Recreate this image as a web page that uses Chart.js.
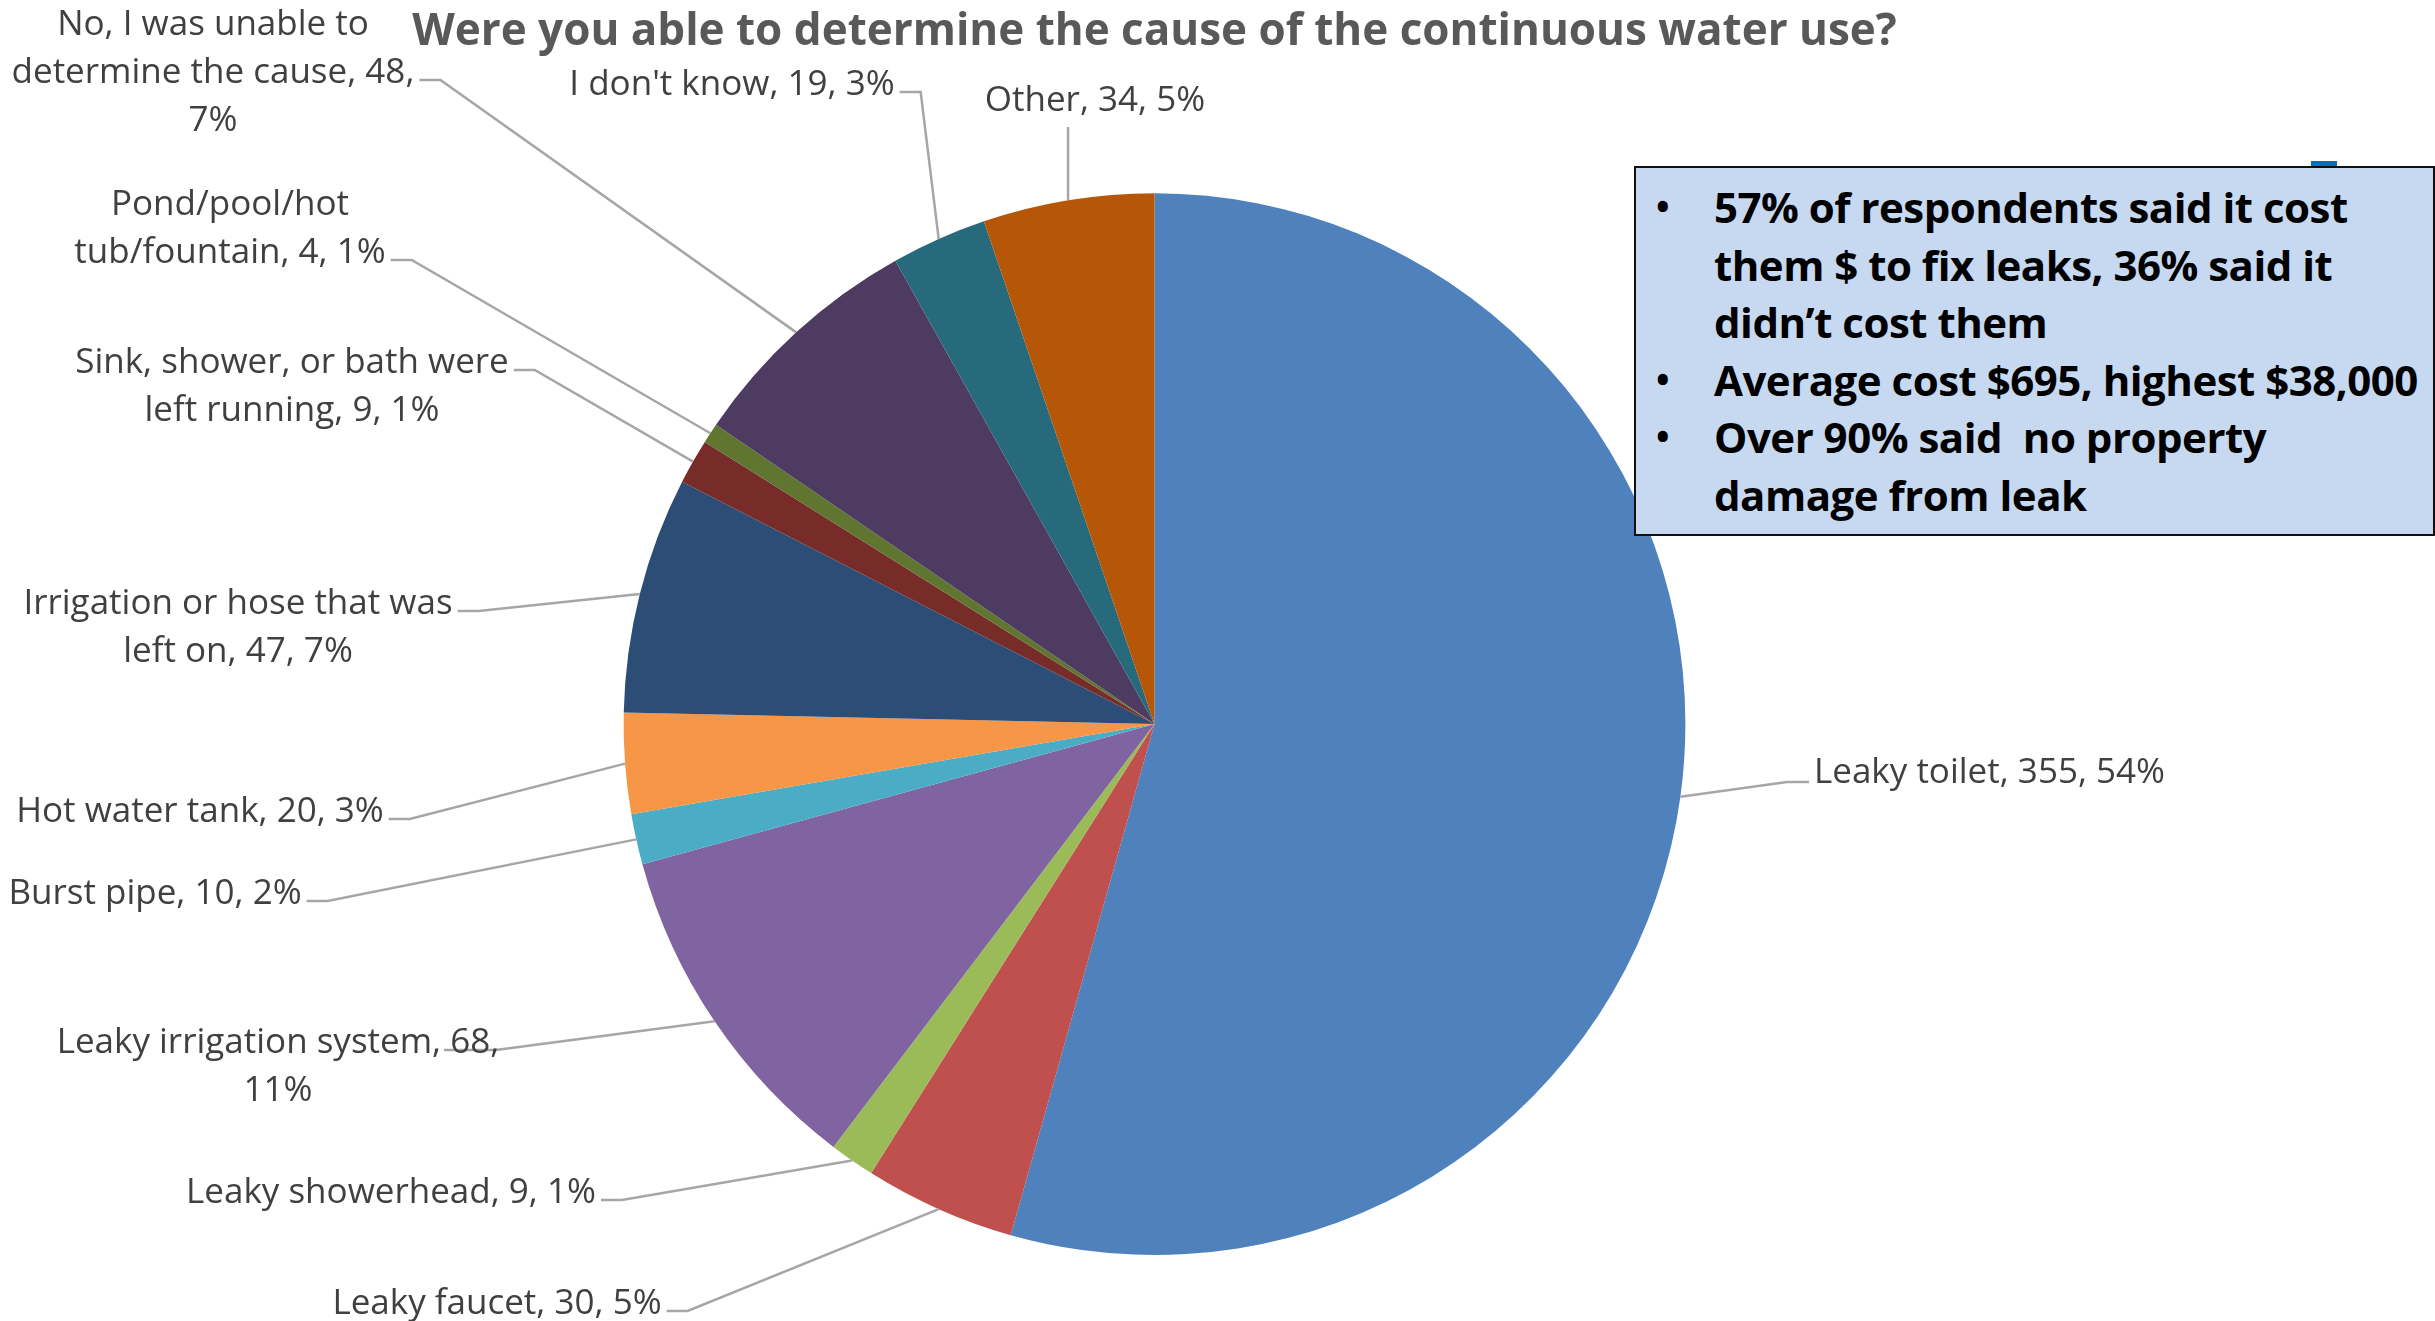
<!DOCTYPE html>
<html>
<head>
<meta charset="utf-8">
<title>Continuous water use causes</title>
<script src="https://cdn.jsdelivr.net/npm/chart.js@4.4.0/dist/chart.umd.min.js"></script>
<style>
  html, body { margin: 0; padding: 0; background: #fff; }
  #wrap { position: relative; width: 2435px; height: 1321px; overflow: hidden; }
  #pie { position: absolute; left: 0; top: 0; }
  #notes {
    position: absolute; left: 1634px; top: 166px; width: 801px; height: 370px;
    box-sizing: border-box; background: #c6d9f1; border: 2px solid #111;
    font-family: "Open Sans", Lato, sans-serif; font-weight: 700; font-size: 42px;
    line-height: 57.5px; color: #000; letter-spacing: -0.5px;
  }
  #notes ul { margin: 0; padding: 10px 0 0 0; list-style: none; }
  #notes li { position: relative; padding-left: 78px; }
  #notes li::before { content: '\2022'; position: absolute; left: 20px; font-size: 36px; }
  #marker { position: absolute; left: 2311px; top: 161px; width: 26px; height: 6px; background: #0070c0; }
</style>
</head>
<body>
<div id="wrap">
  <canvas id="pie" width="2435" height="1321"></canvas>
  <div id="marker"></div>
  <div id="notes">
    <ul>
      <li>57% of respondents said it cost them $ to fix leaks, 36% said it didn’t cost them</li>
      <li>Average cost $695, highest $38,000</li>
      <li>Over 90% said&nbsp; no property damage from leak</li>
    </ul>
  </div>
</div>
<script>
const TITLE = 'Were you able to determine the cause of the continuous water use?';

const CAUSES = [
  'Leaky toilet', 'Leaky faucet', 'Leaky showerhead', 'Leaky irrigation system',
  'Burst pipe', 'Hot water tank', 'Irrigation or hose that was left on',
  'Sink, shower, or bath were left running', 'Pond/pool/hot tub/fountain',
  'No, I was unable to determine the cause', "I don't know", 'Other'
];
const COUNTS = [355, 30, 9, 68, 10, 20, 47, 9, 4, 48, 19, 34];

const SLICE_COLORS = [
  '#4f81bd', '#c0504d', '#9bbb59', '#8064a2', '#4bacc6', '#f79646',
  '#2c4d75', '#772c2a', '#5f7530', '#4d3b62', '#276a7c', '#b65708'
];

const FONT = '"Open Sans", Lato, sans-serif';
const LABEL_SIZE = 35;
const LABEL_LINE = 48;
const LABEL_COLOR = '#404040';
const LEADER_COLOR = '#a6a6a6';

// label block placement: x = centre (or left edge for side 'right'), y = first line centre
const LABEL_LAYOUT = [
  { x: 1814, y: 773,  wrap: 600, side: 'right' },
  { x: 497,  y: 1304, wrap: 400, side: 'left' },
  { x: 391,  y: 1193, wrap: 450, side: 'left' },
  { x: 278,  y: 1043, wrap: 455, side: 'left', stubFrom: 444 },
  { x: 155,  y: 894,  wrap: 400, side: 'left' },
  { x: 200,  y: 812,  wrap: 400, side: 'left' },
  { x: 238,  y: 604,  wrap: 450, side: 'left' },
  { x: 292,  y: 363,  wrap: 455, side: 'left' },
  { x: 230,  y: 205,  wrap: 335, side: 'left' },
  { x: 213,  y: 25,   wrap: 420, side: 'left' },
  { x: 732,  y: 85,   wrap: 400, side: 'left' },
  { x: 1095, y: 101,  wrap: 400, side: 'top' }
];

// whole-number shares that add up to 100 (largest remainder)
function roundedShares(vals) {
  const total = vals.reduce((a, b) => a + b, 0);
  const raw = vals.map(v => v * 100 / total);
  const out = raw.map(Math.floor);
  const left = 100 - out.reduce((a, b) => a + b, 0);
  raw.map((r, i) => [r - out[i], i])
    .sort((a, b) => b[0] - a[0])
    .slice(0, left)
    .forEach(([, i]) => out[i]++);
  return out;
}
const SHARES = roundedShares(COUNTS);

function wrapText(ctx, text, maxW) {
  const words = text.split(' ');
  const lines = [];
  let cur = '';
  words.forEach(w => {
    const t = cur ? cur + ' ' + w : w;
    if (cur && ctx.measureText(t).width > maxW) { lines.push(cur); cur = w; }
    else cur = t;
  });
  if (cur) lines.push(cur);
  return lines;
}

const leaderLabels = {
  id: 'leaderLabels',
  afterDatasetsDraw(chart) {
    const ctx = chart.ctx;
    const arcs = chart.getDatasetMeta(0).data;
    ctx.save();
    ctx.font = `${LABEL_SIZE}px ${FONT}`;
    ctx.textBaseline = 'middle';
    arcs.forEach((arc, i) => {
      const p = arc.getProps(['x', 'y', 'startAngle', 'endAngle', 'outerRadius'], true);
      const mid = (p.startAngle + p.endAngle) / 2;
      const ex = p.x + Math.cos(mid) * p.outerRadius;
      const ey = p.y + Math.sin(mid) * p.outerRadius;
      const lay = LABEL_LAYOUT[i];
      const text = `${CAUSES[i]}, ${COUNTS[i]}, ${SHARES[i]}%`;
      const lines = wrapText(ctx, text, lay.wrap);
      const widths = lines.map(l => ctx.measureText(l).width);
      const wi = widths.indexOf(Math.max(...widths));

      // leader line
      ctx.strokeStyle = LEADER_COLOR;
      ctx.lineWidth = 2.5;
      ctx.beginPath();
      if (lay.side === 'top') {
        const by = lay.y + (lines.length - 1) * LABEL_LINE + 26;
        ctx.moveTo(ex, by);
        ctx.lineTo(ex, ey);
      } else if (lay.side === 'right') {
        const sy = lay.y + wi * LABEL_LINE + 9;
        ctx.moveTo(lay.x - 5, sy);
        ctx.lineTo(lay.x - 27, sy);
        ctx.lineTo(ex, ey);
      } else {
        const sy = lay.y + wi * LABEL_LINE + 7;
        const sx = lay.stubFrom != null ? lay.stubFrom : lay.x + widths[wi] / 2 + 5;
        const tx = lay.stubFrom != null ? sx + 52 : sx + 21;
        ctx.moveTo(sx, sy);
        ctx.lineTo(tx, sy);
        ctx.lineTo(ex, ey);
      }
      ctx.stroke();

      // text
      ctx.fillStyle = LABEL_COLOR;
      ctx.textAlign = lay.side === 'right' ? 'left' : 'center';
      lines.forEach((l, k) => ctx.fillText(l, lay.x, lay.y + k * LABEL_LINE));
    });
    ctx.restore();
  }
};

new Chart(document.getElementById('pie'), {
  type: 'pie',
  data: {
    labels: CAUSES,
    datasets: [{
      data: COUNTS,
      backgroundColor: SLICE_COLORS,
      borderWidth: 0,
      hoverOffset: 0
    }]
  },
  options: {
    responsive: false,
    animation: false,
    layout: { padding: { left: 0, right: 126, top: 0, bottom: 66 } },
    plugins: {
      legend: { display: false },
      tooltip: { enabled: false },
      title: {
        display: true,
        text: TITLE,
        color: '#595959',
        font: { family: FONT, size: 44, weight: 'bold', lineHeight: 1.2 },
        padding: { top: 6, bottom: 134.4 }
      }
    }
  },
  plugins: [leaderLabels]
});
</script>
</body>
</html>
